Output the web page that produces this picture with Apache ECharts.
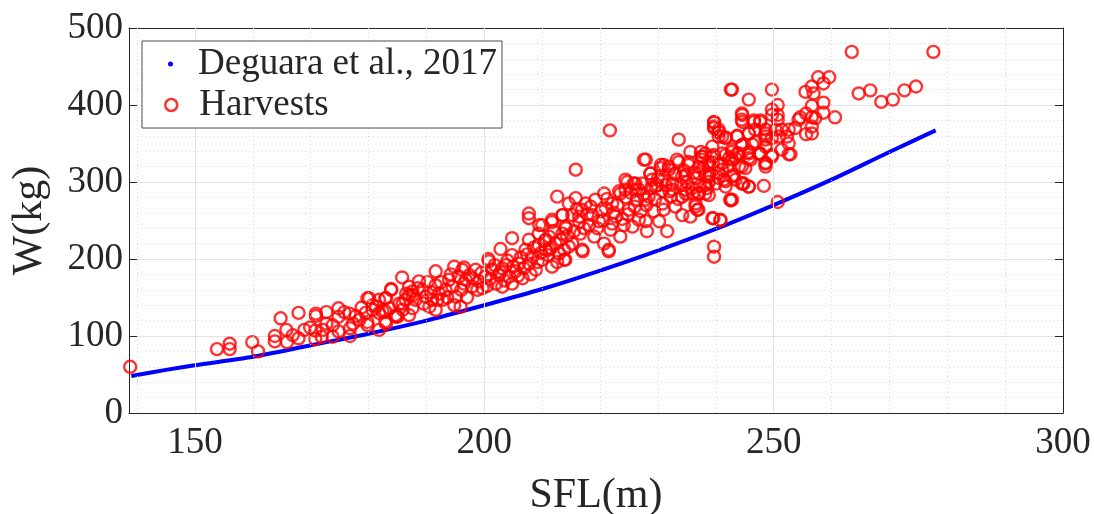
<!DOCTYPE html>
<html>
<head>
<meta charset="utf-8">
<script src="https://cdn.jsdelivr.net/npm/echarts@6/dist/echarts.min.js"></script>
<style>
  html, body { margin: 0; padding: 0; background: #fff; }
  #chart { width: 1094px; height: 514px; }
</style>
</head>
<body>
<div id="chart"></div>
<script>
// Length–weight reference curve (Deguara et al., 2017)
const curveSFL = [139, 145, 150, 160, 170, 180, 190, 200, 210, 220, 230, 240, 250, 260, 270, 278];
const curveW   = [48, 56, 62, 73, 88, 103, 120, 140, 161, 185, 211, 239, 270, 303, 339, 367];

// Harvested fish: [SFL, W]
const harvestPoints = [
  [138.8,60],[153.8,83],[156.0,90],[156.0,83],[159.9,92],[160.9,80],[163.8,100],[163.8,93],[164.8,123],[165.8,108],
  [165.9,92],[166.9,101],[167.9,130],[167.9,97],[168.9,108],[169.9,111],[170.9,129],[170.9,126],[170.8,107],[170.8,96],
  [171.9,99],[172.1,108],[172.7,131],[172.7,116],[173.8,99],[173.8,114],[174.8,136],[174.8,125],[174.8,106],[175.8,131],
  [176.7,129],[176.8,100],[176.8,110],[177.3,116],[177.8,126],[178.4,121],[178.8,137],[179.5,130],[179.8,149],[179.8,118],
  [179.8,114],[180.7,134],[180.7,140],[181.8,108],[181.8,130],[182.9,149],[182.9,132],[182.9,119],[183.0,116],[183.9,160],
  [184.7,125],[185.0,125],[185.9,142],[186.5,155],[187.0,127],[187.6,153],[187.6,136],
  [180.1,149],[181.3,138],[181.8,147],[182.4,132],[183.0,149],[183.6,136],[183.9,161],[184.7,127],[185.3,142],[185.8,176],
  [185.9,134],[186.4,147],[187.0,153],[187.0,164],[187.6,158],[188.1,147],[188.7,171],[189.3,160],[189.9,151],[190.5,138],
  [191.0,147],[191.6,184],[191.6,166],[191.6,134],[191.9,147],[192.2,155],[192.8,147],[193.3,160],[193.9,173],[194.5,164],
  [194.8,190],[194.8,140],[195.1,151],[195.6,177],[195.9,138],[196.2,186],[196.5,189],[196.8,173],[197.4,179],[197.9,164],
  [198.5,186],[199.1,171],[199.7,162],[200.2,177],[200.7,200],[200.8,197],[201.4,186],[202.0,168],[202.5,179],[202.8,213],
  [203.1,188],[203.1,164],[203.7,192],[204.3,177],[204.8,205],[204.8,227],[204.8,168],[205.4,184],[206.0,194],[206.6,175],
  [207.1,212],[207.7,194],[207.7,225],[207.7,259],[207.7,253],[208.3,203],[208.9,186],[209.4,218],[209.4,233],[210.0,199],
  [210.0,244],[210.6,212],[211.2,229],[211.7,190],[211.7,248],[212.3,220],[212.9,207],[213.5,233],[213.5,257],[214.0,242],
  [214.0,199],[214.6,216],
  [188.5,162],[189.5,142],[190.2,170],[190.8,157],[192.5,170],[193.6,150],[194.2,180],[196.0,160],[196.5,168],[197.0,150],
  [198.0,175],[198.8,160],[199.5,182],[200.5,165],[201.0,174],[201.8,192],[202.8,183],[203.5,172],[204.0,198],[205.0,190],
  [205.8,178],[206.3,202],[206.8,188],[207.4,206],[208.0,180],[208.6,215],[209.2,196],[209.8,208],[210.4,223],[211.0,205],
  [211.5,214],[212.0,236],[212.6,196],[213.2,225],[213.8,212],[214.3,230],
  [209.5,244],[210.6,225],[211.2,212],[211.7,251],[212.6,281],[213.5,257],[213.8,199],[214.1,240],[214.6,272],[215.2,257],
  [215.2,220],[215.8,279],[215.8,316],[216.4,248],[216.4,255],[216.6,233],[216.9,264],[216.9,212],[217.0,210],[217.5,272],
  [218.1,244],[218.7,257],[219.0,229],[219.2,277],[219.8,249],[220.7,285],[220.7,220],[221.0,266],[221.5,212],[221.5,210],
  [221.7,367],[221.8,238],[222.1,272],[222.1,246],[222.7,255],[223.3,288],[223.5,229],[223.5,285],[224.1,244],[224.7,300],
  [225.0,264],[225.6,242],[225.8,298],[226.4,277],[226.7,251],[227.3,298],[227.6,329],[227.9,249],[228.1,236],[228.4,281],
  [228.7,311],[229.3,262],[229.9,296],[230.2,249],[230.5,322],[230.7,288],[231.0,264],[231.6,236],[231.9,316],[232.2,281],
  [232.5,298],[233.0,268],[233.3,329],[234.2,257],[234.2,307],[234.8,285],[235.3,322],[235.6,255],[235.9,292],[236.5,272],
  [236.8,264],[237.1,311],[237.6,333],[238.2,285],[238.8,300],[239.4,253],[239.7,216],[239.7,203],[240.8,251],[241.1,316],
  [241.7,294],[242.5,277],[242.8,329],[243.4,303],
  [215.5,236],[216.0,265],[217.2,240],[217.8,258],[218.4,268],[219.5,240],[220.2,262],[220.5,250],[221.2,278],[222.4,260],
  [223.0,270],[223.8,252],[224.4,280],[224.8,258],[225.3,286],[226.0,268],[226.2,290],[227.0,262],[227.5,284],[228.0,270],
  [228.8,292],[229.5,278],[230.0,305],[230.8,272],[231.3,296],[232.0,288],[232.8,310],[233.5,278],[234.0,296],[234.5,315],
  [235.0,300],[236.0,285],[236.3,312],[237.3,295],[237.8,318],[238.5,292],[239.0,310],[239.5,325],
  [242.8,420],[245.7,407],[239.7,378],[239.7,372],[244.6,387],[244.6,378],[246.6,378],[247.7,378],[233.6,355],[240.5,365],
  [241.1,359],[241.7,357],[243.7,359],[245.7,363],[246.9,352],[248.6,368],[248.6,355],[239.4,346],[244.6,348],[227.9,329],
  [235.6,339],[237.4,339],[237.6,333],[239.7,335],[241.7,335],[242.8,339],[244.0,337],[245.7,339],[247.4,337],[248.6,324],
  [246.0,329],[231.0,322],[231.9,320],[233.6,326],[235.3,326],[237.1,320],[238.8,326],[240.5,322],[242.3,331],[244.0,320],
  [245.1,318],[224.4,303],[226.1,298],[228.7,311],[229.0,303],[230.5,318],[233.0,311],[234.8,309],[236.5,305],[238.2,309],
  [240.5,305],[241.7,301],[243.1,309],[244.8,298],[245.7,294],[242.8,277],[236.5,268],[238.8,283],[232.5,290],[230.7,301],
  [234.8,290],[237.1,285],[234.2,281],[226.7,290],[229.6,294],[224.4,290],[227.9,277],
  [263.5,469],[277.6,469],[242.6,420],[249.7,420],[257.7,436],[259.6,436],[256.6,424],[258.6,428],[255.5,417],[256.9,415],
  [264.7,415],[266.7,419],[268.6,404],[270.6,407],[272.6,419],[274.6,424],[258.6,403],[256.6,399],[258.6,390],[260.6,384],
  [256.6,384],[257.2,383],[254.6,384],[255.6,389],[254.3,381],[256.6,372],[255.6,362],[256.6,363],[250.7,400],[249.7,394],
  [249.7,387],[250.7,387],[250.7,381],[244.5,389],[244.5,381],[246.6,380],[247.7,380],[239.7,377],[239.7,370],[240.5,368],
  [240.5,359],[241.7,358],[243.7,360],[245.7,363],[246.8,368],[248.6,363],[250.3,368],[251.4,368],[252.6,368],[253.7,370],
  [248.6,359],[249.7,357],[250.9,359],[252.3,359],[252.6,350],[252.6,336],[251.4,342],[249.7,335],[248.6,346],[246.3,349],
  [245.7,337],[244.5,348],[243.7,337],[242.8,342],[241.1,337],[239.4,333],[238.2,337],[237.6,329],[238.8,322],[241.1,324],
  [242.2,320],[243.4,331],[244.5,320],[245.7,331],[247.7,336],[248.6,325],[248.6,320],[249.7,333],[242.8,307],[244.5,298],
  [245.7,294],[242.6,276],[239.6,253],[240.8,250],[250.7,274],[240.5,311],[238.8,307],[238.2,296],[237.0,285],[237.0,264],
  [240.0,298],[241.4,303],[244.7,298],[248.3,295],[252.9,336],[247.7,337]
];

// Axis ticks and grid positions
const xMajorTicks = [150, 200, 250, 300];
const xMinorGrid  = [140, 160, 170, 180, 190, 210, 220, 230, 240, 260, 270, 280, 290];
const xMajorGrid  = [150, 200, 250];

const FONT = '"Liberation Serif", "Times New Roman", serif';
const INK = '#262626';

const chart = echarts.init(document.getElementById('chart'), null, { renderer: 'canvas' });

const curveData = curveSFL.map((x, i) => [x, curveW[i]]);

// vertical grid lines (major solid, minor dotted) drawn as mark lines under the data
const gridLineSeries = {
  type: 'line',
  data: [],
  silent: true,
  z: 1,
  markLine: {
    silent: true,
    symbol: 'none',
    animation: false,
    label: { show: false },
    emphasis: { disabled: true },
    data: [
      ...xMinorGrid.map(v => ({ xAxis: v, lineStyle: { color: '#d6d6d6', width: 1, type: [1, 3] } })),
      ...xMajorGrid.map(v => ({ xAxis: v, lineStyle: { color: '#e3e3e3', width: 1, type: 'solid' } }))
    ]
  }
};

const baseX = {
  type: 'value',
  min: 138.6,
  max: 300,
  axisLine: { show: true, onZero: false, lineStyle: { color: INK, width: 1 } },
  axisTick: { show: true, inside: true, length: 8, customValues: xMajorTicks, lineStyle: { color: INK } },
  splitLine: { show: false }
};

const baseY = {
  type: 'value',
  min: 0,
  max: 500,
  interval: 100,
  axisLine: { show: true, onZero: false, lineStyle: { color: INK, width: 1 } },
  axisTick: { show: true, inside: true, length: 8, lineStyle: { color: INK } }
};

chart.setOption({
  animation: false,
  backgroundColor: '#ffffff',
  grid: { left: 129, right: 31, top: 28, bottom: 101, containLabel: false, outerBoundsMode: 'none' },
  xAxis: [
    Object.assign({}, baseX, {
      position: 'bottom',
      axisLabel: { show: true, customValues: xMajorTicks, color: INK, fontFamily: FONT, fontSize: 37, margin: 12 },
      name: 'SFL(m)',
      nameLocation: 'middle',
      nameGap: 62,
      nameTextStyle: { color: INK, fontFamily: FONT, fontSize: 42 }
    }),
    Object.assign({}, baseX, {
      position: 'top',
      axisLabel: { show: false }
    })
  ],
  yAxis: [
    Object.assign({}, baseY, {
      position: 'left',
      axisLabel: { show: true, color: INK, fontFamily: FONT, fontSize: 37, margin: 6 },
      splitLine: { show: true, lineStyle: { color: '#e3e3e3', width: 1 } },
      minorTick: { show: false, splitNumber: 5 },
      minorSplitLine: { show: true, lineStyle: { color: '#d6d6d6', width: 1, type: [1, 3] } },
      name: 'W(kg)',
      nameLocation: 'middle',
      nameGap: 78,
      nameTextStyle: { color: INK, fontFamily: FONT, fontSize: 42 }
    }),
    Object.assign({}, baseY, {
      position: 'right',
      axisLabel: { show: false },
      splitLine: { show: false }
    })
  ],
  legend: [
    {
      z: 20,
      selectedMode: false,
      left: 168,
      top: 44,
      padding: 0,
      itemWidth: 5,
      itemHeight: 5,
      data: [{ name: 'Deguara et al., 2017', icon: 'circle', itemStyle: { color: '#0000ff', borderWidth: 0 } }],
      textStyle: { color: INK, fontFamily: FONT, fontSize: 37, lineHeight: 40, padding: [0, 0, 0, 20] }
    },
    {
      z: 20,
      selectedMode: false,
      left: 164,
      top: 85,
      padding: 0,
      itemWidth: 12,
      itemHeight: 12,
      data: [{ name: 'Harvests', icon: 'circle', itemStyle: { color: 'rgba(0,0,0,0)', borderColor: '#ff0000', borderWidth: 2.5 } }],
      textStyle: { color: INK, fontFamily: FONT, fontSize: 37, lineHeight: 40, padding: [0, 0, 0, 17] }
    }
  ],
  graphic: [
    {
      type: 'rect',
      z: 10,
      silent: true,
      shape: { x: 142, y: 41, width: 360, height: 87 },
      style: { fill: '#ffffff', stroke: '#4d4d4d', lineWidth: 1 }
    }
  ],
  series: [
    gridLineSeries,
    {
      name: 'Deguara et al., 2017',
      type: 'line',
      data: curveData,
      smooth: 0.3,
      showSymbol: false,
      symbol: 'none',
      z: 2,
      lineStyle: { color: '#0000ff', width: 4 },
      itemStyle: { color: '#0000ff' },
      emphasis: { disabled: true }
    },
    {
      name: 'Harvests',
      type: 'scatter',
      data: harvestPoints,
      symbol: 'circle',
      symbolSize: 12,
      z: 3,
      itemStyle: { color: 'rgba(0,0,0,0)', borderColor: '#ff0000', borderWidth: 2.4 },
      emphasis: { disabled: true }
    }
  ]
});
</script>
</body>
</html>
